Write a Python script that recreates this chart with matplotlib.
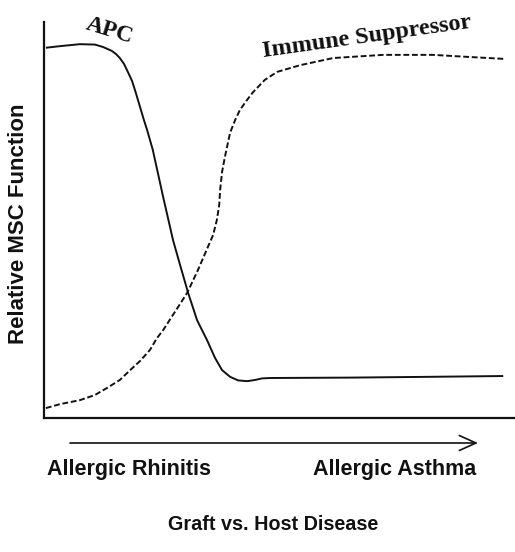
import matplotlib
matplotlib.use("Agg")
import matplotlib.pyplot as plt

# Disease progression (0-100) and relative MSC function (0-100)
apc_x = [0.4, 3.4, 7.6, 10.8, 12.5, 14.4, 15.3, 16.1, 17.0, 17.8, 18.7, 19.5, 20.4, 21.2,
         21.9, 22.5, 23.1, 25.3, 27.4, 28.9, 30.6, 32.5, 34.6, 36.3, 37.8, 39.5, 41.2,
         43.1, 44.8, 46.3, 48.0, 65.0, 82.0, 97.5]
apc_y = [93.5, 93.9, 94.4, 94.3, 93.7, 92.7, 91.9, 90.9, 89.4, 87.4, 85.1, 82.1, 78.5, 75.3,
         72.7, 70.2, 67.7, 55.8, 44.9, 38.6, 31.6, 24.7, 19.7, 15.2, 12.1, 10.4, 9.5,
         9.3, 9.6, 10.0, 10.1, 10.2, 10.4, 10.6]

sup_x = [0.4, 3.4, 7.6, 10.8, 13.4, 16.1, 18.3, 20.4, 22.5, 24.0, 25.3, 27.8, 30.4, 32.7,
         34.8, 35.9, 36.7, 37.2, 37.4, 37.8, 38.4, 39.5, 40.6, 41.6, 43.1, 44.4, 46.9, 49.5,
         54.4, 61.4, 72.0, 82.6, 89.8, 97.5]
sup_y = [2.5, 3.5, 4.5, 5.8, 7.6, 9.6, 12.1, 14.4, 17.2, 20.2, 22.2, 26.8, 31.6, 37.4,
         43.2, 46.2, 50.0, 53.8, 57.6, 62.1, 65.9, 72.0, 75.3, 77.8, 80.3, 82.3, 85.4, 87.4,
         89.1, 90.9, 91.7, 91.7, 91.2, 90.7]

curve_labels = ["APC", "Immune Suppressor"]
y_label = "Relative MSC Function"
stage_labels = ["Allergic Rhinitis", "Allergic Asthma"]
bottom_label = "Graft vs. Host Disease"

fig = plt.figure(figsize=(5.15, 5.52), dpi=100)
W, H = 515, 552
ax = fig.add_axes([44 / W, 1 - 418 / H, 1 - 44 / W, (418 - 22) / H])
ax.set_xlim(0, 100)
ax.set_ylim(0, 100)

ax.plot(apc_x, apc_y, color="#111111", lw=1.4, solid_capstyle="butt", solid_joinstyle="round")
ax.plot(sup_x, sup_y, color="#111111", lw=1.4, linestyle=(0, (3, 1.4)))

for s in ["top", "right"]:
    ax.spines[s].set_visible(False)
for s in ["left", "bottom"]:
    ax.spines[s].set_linewidth(1.6)
    ax.spines[s].set_color("#111111")
ax.set_xticks([])
ax.set_yticks([])

serif = "Liberation Serif"
sans = "Liberation Sans"
fig.text(110 / W, 1 - 31 / H, curve_labels[0], fontfamily=serif, fontweight="bold",
         fontsize=17, rotation=-17, ha="center", va="center", color="#111111")
fig.text(367 / W, 1 - 37 / H, curve_labels[1], fontfamily=serif, fontweight="bold",
         fontsize=17.5, rotation=8, ha="center", va="center", color="#111111")

fig.text(19 / W, 1 - 224 / H, y_label, fontfamily=sans, fontweight="bold", fontsize=16,
         rotation=90, ha="center", va="center", color="#111111")

ax.annotate("", xy=(478 / W, 1 - 443 / H), xytext=(70 / W, 1 - 443 / H),
            xycoords="figure fraction", textcoords="figure fraction",
            arrowprops=dict(arrowstyle="->,head_length=1.0,head_width=0.45",
                            mutation_scale=12, color="#111111", lw=1.2,
                            shrinkA=0, shrinkB=0))

fig.text(129 / W, 1 - 469 / H, stage_labels[0], fontfamily=sans, fontweight="bold",
         fontsize=15.5, ha="center", va="center", color="#111111")
fig.text(395 / W, 1 - 469 / H, stage_labels[1], fontfamily=sans, fontweight="bold",
         fontsize=15.5, ha="center", va="center", color="#111111")
fig.text(273 / W, 1 - 525 / H, bottom_label, fontfamily=sans, fontweight="bold",
         fontsize=14.2, ha="center", va="center", color="#111111")

fig.savefig("out.png", dpi=100)
